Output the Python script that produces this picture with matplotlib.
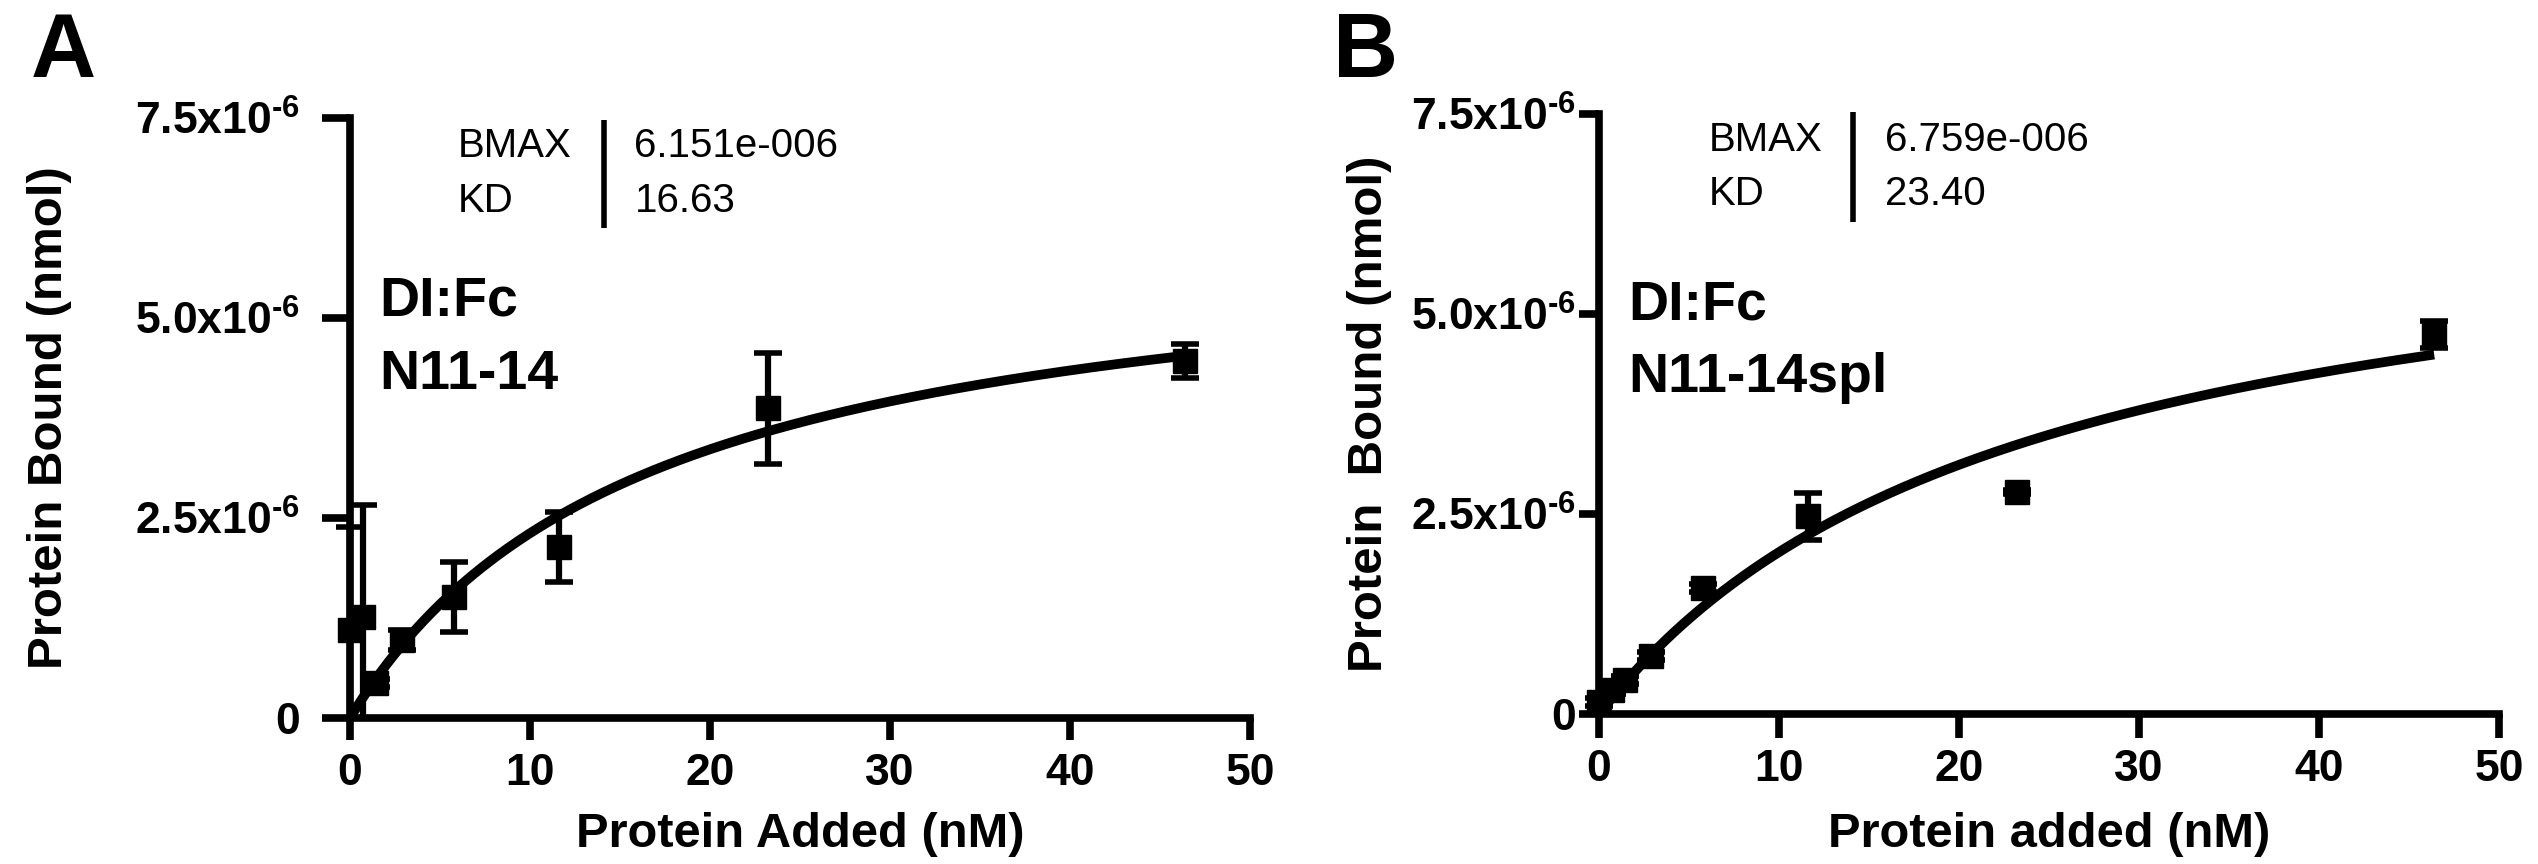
import numpy as np
import matplotlib
matplotlib.use('Agg')
import matplotlib.pyplot as plt

plt.rcParams['font.family'] = ['Liberation Sans', 'DejaVu Sans']
plt.rcParams['mathtext.fontset'] = 'custom'
plt.rcParams['mathtext.rm'] = 'Liberation Sans:bold'
plt.rcParams['mathtext.bf'] = 'Liberation Sans:bold'

W, H = 2538, 864

# serial dilution of protein added (nM)
conc = [0, 0.725, 1.45, 2.9, 5.8, 11.6, 23.2, 46.4]

# panel A, DI:Fc vs N11-14 (bound, nmol)
bound_a = [1.10e-6, 1.26e-6, 0.44e-6, 0.975e-6, 1.51e-6, 2.14e-6, 3.87e-6, 4.46e-6]
sd_a = [1.29e-6, 1.40e-6, 0.05e-6, 0.12e-6, 0.44e-6, 0.44e-6, 0.69e-6, 0.21e-6]
bmax_a, kd_a = 6.151e-6, 16.63

# panel B, DI:Fc vs N11-14spl
bound_b = [0.15e-6, 0.30e-6, 0.42e-6, 0.72e-6, 1.57e-6, 2.47e-6, 2.775e-6, 4.74e-6]
sd_b = [0.05e-6, 0.05e-6, 0.05e-6, 0.05e-6, 0.05e-6, 0.29e-6, 0.02e-6, 0.17e-6]
bmax_b, kd_b = 6.759e-6, 23.40

yticks = [0, 2.5e-6, 5.0e-6, 7.5e-6]
ytick_labels = ['0', r'2.5x10$^{\text{-6}}$', r'5.0x10$^{\text{-6}}$', r'7.5x10$^{\text{-6}}$']
xticks = [0, 10, 20, 30, 40, 50]


def prism_exp(v):
    # Prism writes 6.151e-006
    m, ex = ('%.3e' % v).split('e')
    return '%se%s%03d' % (m, '-' if int(ex) < 0 else '+', abs(int(ex)))


def draw_panel(ax, bound, sd, bmax, kd, ylab, xlab, name1, name2,
               ytick_len, ytick_pad, xtick_len, xtick_pad, ylab_x, xlab_y, txt):
    x = np.array(conc)
    y = np.array(bound)
    e = np.array(sd)
    lo = np.minimum(e, y)  # bars stop at the axis

    # one site binding fit
    xs = np.linspace(0, x.max(), 400)
    ax.plot(xs, bmax * xs / (kd + xs), color='k', lw=7, solid_capstyle='butt', zorder=3)

    ax.errorbar(x, y, yerr=[lo, e], fmt='none', ecolor='k', elinewidth=4.5,
                capsize=10, capthick=4, clip_on=False, zorder=4)
    ax.plot(x, y, 's', color='k', ms=17, clip_on=False, zorder=5)

    ax.set_xlim(0, 50)
    ax.set_ylim(0, 7.5e-6)
    for s in ['top', 'right']:
        ax.spines[s].set_visible(False)
    for s in ['left', 'bottom']:
        ax.spines[s].set_linewidth(5.5)
    ax.set_yticks(yticks, ytick_labels, fontsize=32, fontweight='bold')
    ax.set_xticks(xticks, [str(t) for t in xticks], fontsize=32, fontweight='bold')
    ax.tick_params(axis='y', length=ytick_len, width=5.5, pad=ytick_pad)
    ax.tick_params(axis='x', length=xtick_len, width=5.5, pad=xtick_pad)

    ax.set_ylabel(ylab, fontsize=35.5, fontweight='bold')
    ax.yaxis.set_label_coords(ylab_x, 0.5)
    ax.set_xlabel(xlab, fontsize=35.2, fontweight='bold', va='baseline')
    ax.xaxis.set_label_coords(0.5, xlab_y)

    # fit results table
    bx, sx, vx, y1, y2, s0, s1 = txt
    ax.text(bx, y1, 'BMAX', transform=ax.transAxes, fontsize=29, va='baseline')
    ax.text(bx, y2, 'KD', transform=ax.transAxes, fontsize=29, va='baseline')
    ax.text(vx, y1, prism_exp(bmax), transform=ax.transAxes, fontsize=29, va='baseline')
    ax.text(vx, y2, '%.2f' % kd, transform=ax.transAxes, fontsize=29, va='baseline')
    ax.plot([sx, sx], [s0, s1], transform=ax.transAxes, color='k', lw=4,
            solid_capstyle='butt', clip_on=False)

    ax.text(0.033, name1, 'DI:Fc', transform=ax.transAxes, fontsize=40,
            fontweight='bold', va='baseline')
    ax.text(0.033, name1 - 0.121, name2, transform=ax.transAxes, fontsize=40,
            fontweight='bold', va='baseline')


fig = plt.figure(figsize=(W / 100, H / 100), dpi=100)
ax_a = fig.add_axes([350 / W, (H - 718) / H, 900 / W, 600 / H])
ax_b = fig.add_axes([1599 / W, (H - 714) / H, 900 / W, 600 / H])

draw_panel(ax_a, bound_a, sd_a, bmax_a, kd_a, 'Protein Bound (nmol)', 'Protein Added (nM)',
           0.67, 'N11-14', 20, 16, 16, 9, -0.309, -0.215,
           (0.12, 0.2822, 0.316, 0.935, 0.843, 0.817, 0.997))
draw_panel(ax_b, bound_b, sd_b, bmax_b, kd_b, 'Protein  Bound (nmol)', 'Protein added (nM)',
           0.657, 'N11-14spl', 14.4, 2, 17, 8, -0.23, -0.222,
           (0.1222, 0.2822, 0.318, 0.938, 0.848, 0.82, 1.003))

fig.text(31 / W, 1 - 77 / H, 'A', fontsize=65, fontweight='bold', va='baseline')
fig.text(1333 / W, 1 - 77 / H, 'B', fontsize=65, fontweight='bold', va='baseline')

fig.savefig('out.png', dpi=100)
